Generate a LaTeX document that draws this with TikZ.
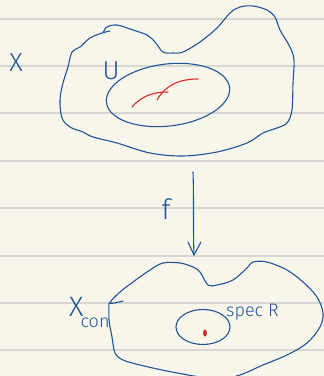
\documentclass[tikz,border=0pt]{standalone}
\usepackage{fontspec}
\usetikzlibrary{shapes.geometric}
\newfontfamily\hand{Fira Sans Light}
\definecolor{paper}{HTML}{F8F6EB}
\definecolor{rule}{HTML}{D6D6D2}
\definecolor{ink}{HTML}{1F5596}
\definecolor{redink}{HTML}{D42A25}
\begin{document}
\begin{tikzpicture}[x=1pt,y=-1pt,
  inkline/.style={draw=ink,line width=1.1pt,line cap=round,line join=round},
  redline/.style={draw=redink,line width=1.1pt,line cap=round},
  rulestyle/.style={draw=rule,line width=1.4pt},
  lbl/.style={text=ink,inner sep=0pt,font=\hand}]
\useasboundingbox (0,0) rectangle (324,376);
\fill[paper] (0,0) rectangle (324,376);
\clip (0,0) rectangle (324,376);
% ruled lines
\foreach \yy in {19,66,113,161,208,256,303,350}
  \draw[rulestyle] (0,\yy) -- (324,\yy);
% upper blob X
\draw[inkline] plot[smooth,tension=0.55] coordinates {
 (110,31) (102,33) (90,38) (80,47) (72,52) (68,67) (63,83) (60,100) (62,118) (70,127) (83,132)
 (93,137) (117,143) (150,153) (183,156) (217,152) (247,143) (263,133) (277,128) (287,123)
 (292,110) (293,83) (294,60) (290,47) (280,30) (275,17) (267,10) (253,6) (240,7) (230,13)
 (217,28) (200,42) (183,52) (173,53) (163,52) (155,42) (147,35) (133,30) (117,25) (107,27) (103,33)};
% U ellipse
\node[draw=ink,line width=1.1pt,ellipse,minimum width=124pt,minimum height=62pt,rotate=7,inner sep=0pt] (Uell) at (168,95) {};
% red curves
\draw[redline] (132,107) .. controls (140,98) and (150,92) .. (168,92);
\draw[redline] (157,100) .. controls (165,86) and (178,79) .. (198,79);
% labels
\node[lbl,font=\hand\fontsize{26}{26}\selectfont] (Xlab) at (16,63) {X};
\node[lbl,font=\hand\fontsize{26}{26}\selectfont] (Ulab) at (111,71) {U};
\node[lbl,font=\hand\fontsize{28}{28}\selectfont] (flab) at (166,209) {f};
% arrow
\coordinate (astart) at (193,172);
\coordinate (aend) at (194,255);
\draw[inkline] (astart) .. controls (194,200) and (193,230) .. (aend);
\draw[inkline] (188,242) -- (aend) -- (201,242);
% lower blob
\draw[inkline] plot[smooth,tension=0.55] coordinates {
 (123,301) (110,303) (120,292) (133,282) (150,270) (163,263) (180,263) (193,267) (200,272)
 (208,285) (217,285) (233,280) (247,268) (253,262) (267,262) (287,270) (303,282) (317,297)
 (323,313) (320,327) (307,343) (287,355) (263,365) (240,375) (220,379) (200,377) (167,371)
 (140,365) (123,360) (115,353) (112,337) (109,320) (109,303)};
% Spec R ellipse
\node[draw=ink,line width=1.1pt,ellipse,minimum width=54pt,minimum height=35pt,inner sep=0pt] (spec) at (203,327) {};
\fill[redink] (205,333) ellipse (1.9pt and 3.6pt);
% lower labels
\node[lbl,font=\hand\fontsize{28}{28}\selectfont,anchor=west] (Xcon) at (69,313) {X\kern-3pt\raisebox{-11pt}{\fontsize{18}{18}\selectfont con}};
\node[lbl,font=\hand\fontsize{18}{18}\selectfont,anchor=west] (speclab) at (226,312) {spec R};
\end{tikzpicture}
\end{document}
